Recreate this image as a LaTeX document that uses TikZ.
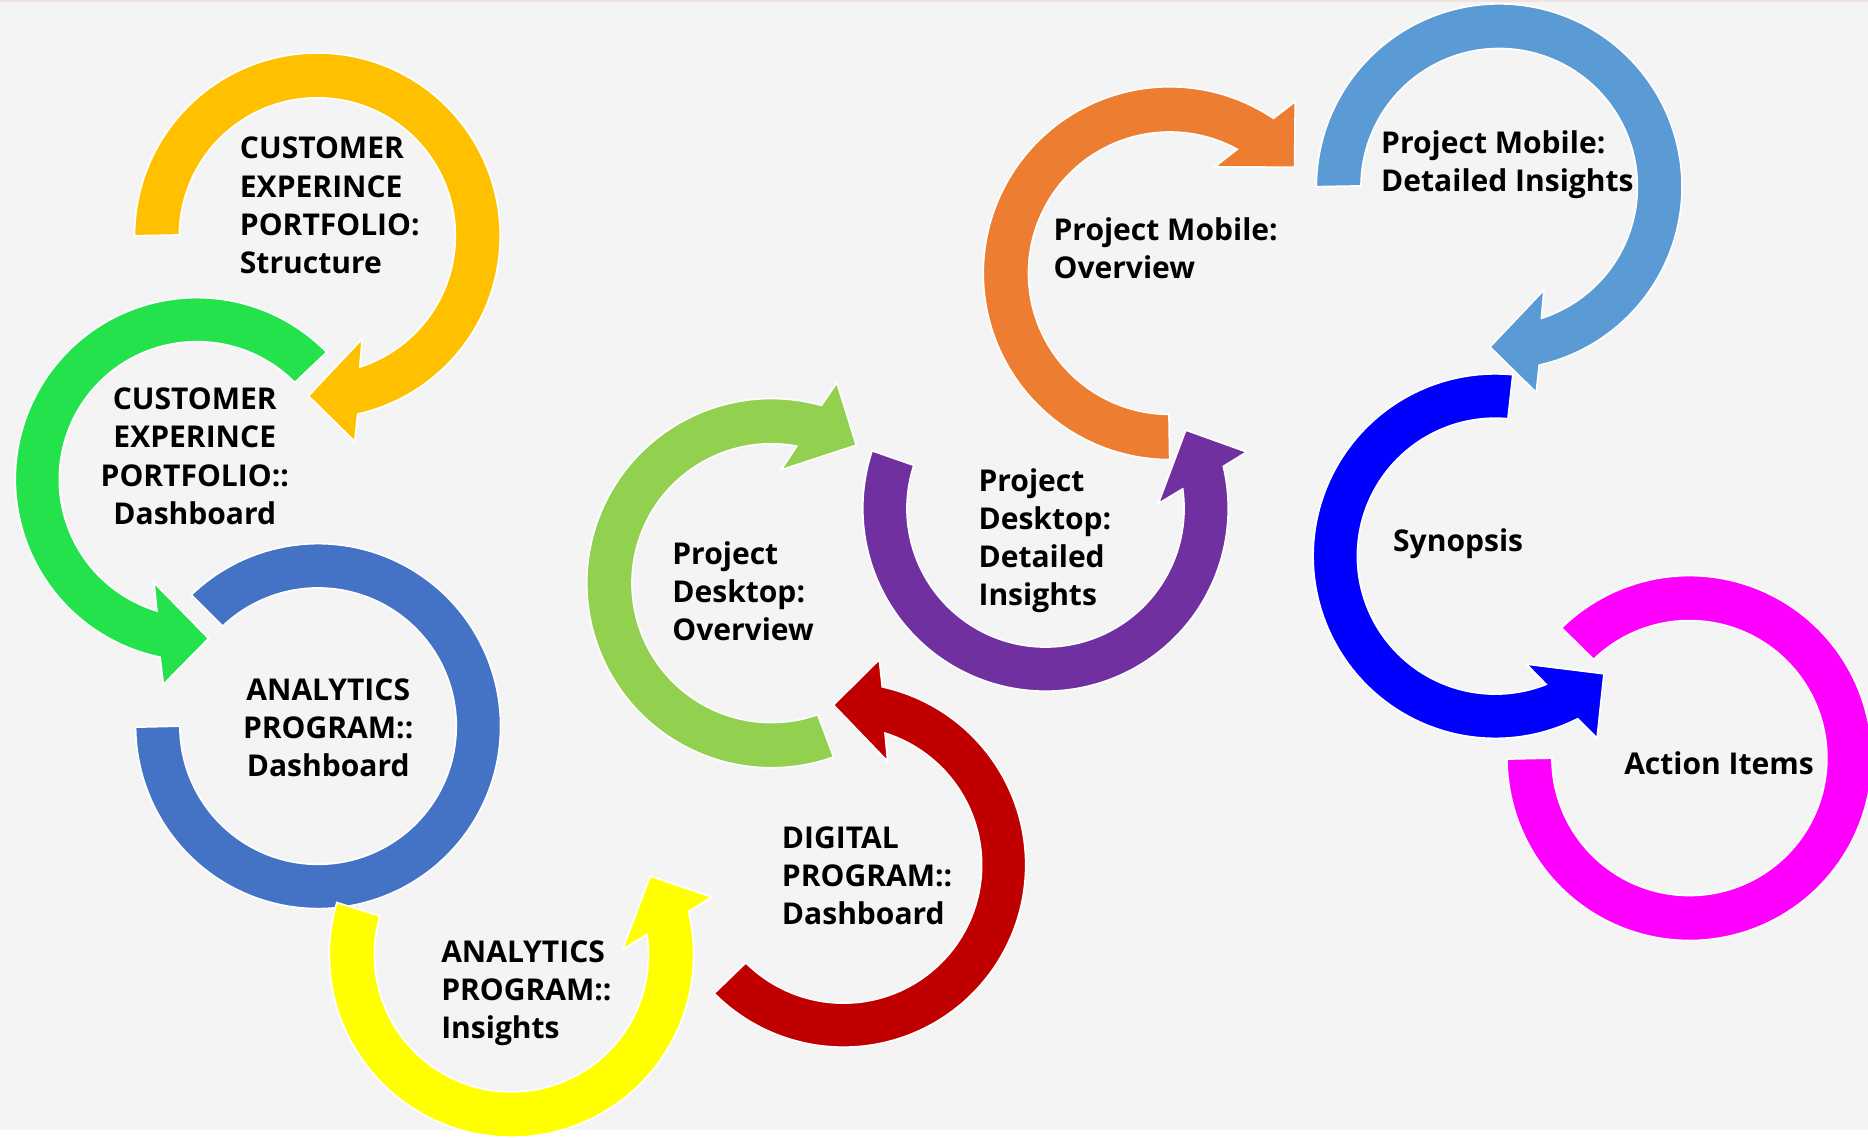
\documentclass[tikz,border=0pt]{standalone}
\usepackage{fontspec}
\setmainfont{Open Sans}
\definecolor{bggray}{HTML}{F4F4F4}
\definecolor{topline}{HTML}{F2E2E2}
\definecolor{cgold}{HTML}{FFC000}
\definecolor{cgreen}{HTML}{23E24B}
\definecolor{cblue}{HTML}{4472C4}
\definecolor{cyellow}{HTML}{FFFF00}
\definecolor{cred}{HTML}{C00000}
\definecolor{clgreen}{HTML}{92D050}
\definecolor{cpurple}{HTML}{7030A0}
\definecolor{corange}{HTML}{ED7D31}
\definecolor{clblue}{HTML}{5B9BD5}
\definecolor{cpure}{HTML}{0000FF}
\definecolor{cmagenta}{HTML}{FF00FF}
\tikzset{
  arrowshape/.style={draw=white, line width=0.7pt, line join=miter},
  lbl/.style={inner sep=0pt, font=\fontsize{12.6pt}{16pt}\selectfont\bfseries, text=black}
}
% color, cx, cy, ro, ri, tail angle, tip angle, direction (+1/-1)
\newcommand\carrow[8]{%
  \pgfmathsetmacro\cso{#7-(#8)*15.6}%
  \pgfmathsetmacro\csi{#7-(#8)*21.1}%
  \pgfmathsetmacro\cbo{#7-(#8)*13.5}%
  \pgfmathsetmacro\cbi{#7-(#8)*26.7}%
  \pgfmathsetmacro\crbo{#4+22}%
  \pgfmathsetmacro\crbi{#5-21.5}%
  \pgfmathsetmacro\crt{(#4+#5)/2}%
  \filldraw[arrowshape, fill=#1, shift={(#2,#3)}]
    plot[domain=0:1, samples=120] ({#4*cos(#6+(\cso-#6)*\x)},{#4*sin(#6+(\cso-#6)*\x)})
    -- ({\crbo*cos(\cbo)},{\crbo*sin(\cbo)})
    -- ({\crt*cos(#7)},{\crt*sin(#7)})
    -- ({\crbi*cos(\cbi)},{\crbi*sin(\cbi)})
    -- plot[domain=0:1, samples=120] ({#5*cos(\csi+(#6-\csi)*\x)},{#5*sin(\csi+(#6-\csi)*\x)})
    -- cycle;
}
% color, cx, cy, ro, ri, start angle, end angle
\newcommand\cring[7]{%
  \filldraw[arrowshape, fill=#1, shift={(#2,#3)}]
    plot[domain=0:1, samples=140] ({#4*cos(#6+(#7-#6)*\x)},{#4*sin(#6+(#7-#6)*\x)})
    -- plot[domain=0:1, samples=140] ({#5*cos(#7+(#6-#7)*\x)},{#5*sin(#7+(#6-#7)*\x)})
    -- cycle;
}
\begin{document}
\begin{tikzpicture}[x=0.5pt, y=-0.5pt]
\useasboundingbox (0,0) rectangle (1568,955);
\clip (0,0) rectangle (1568,955);
\fill[white] (0,0) rectangle (1568,955);
\fill[bggray] (0,0) rectangle (1568,948.5);
\fill[topline] (0,0) rectangle (1568,1.5);

% rings and arrows
\cring{cblue}{267}{609.5}{153.2}{116}{226}{540}
\carrow{cgold}{266.4}{197.9}{153.5}{115.8}{180}{453.2}{1}
\carrow{cgreen}{165.3}{402.3}{152.5}{115.5}{315.6}{85.8}{-1}
\carrow{cyellow}{429.3}{801.5}{153}{115}{196.7}{-29.6}{-1}
\carrow{cred}{708}{726}{153}{116}{135.2}{-93.6}{-1}
\carrow{clgreen}{647.5}{489.5}{155}{117}{70.3}{301.6}{1}
\carrow{corange}{981.8}{229.3}{156.5}{118.5}{90}{319.7}{1}
\carrow{cpurple}{877.6}{426.8}{153.4}{116.3}{198.4}{-29.2}{-1}
\carrow{cpure}{1255.2}{466.8}{153}{115.8}{275.5}{47.3}{-1}
\carrow{clblue}{1258.4}{156.7}{153.5}{116}{180}{453.3}{1}
\cring{cmagenta}{1418.1}{636.3}{153.2}{115.4}{225.5}{540}

% labels
\node[lbl, anchor=west, align=left] (t1) at (201,172.4) {CUSTOMER\\EXPERINCE\\PORTFOLIO:\\Structure};
\node[lbl, anchor=center, align=center] (t2) at (163.5,383) {CUSTOMER\\EXPERINCE\\PORTFOLIO::\\Dashboard};
\node[lbl, anchor=center, align=center] (t3) at (275.5,611) {ANALYTICS\\PROGRAM::\\Dashboard};
\node[lbl, anchor=west, align=left] (t4) at (370,834) {ANALYTICS\\PROGRAM::\\Insights};
\node[lbl, anchor=west, align=left] (t5) at (656,735) {DIGITAL\\PROGRAM::\\Dashboard};
\node[lbl, anchor=west, align=left] (t6) at (564,496.5) {Project\\Desktop:\\Overview};
\node[lbl, anchor=west, align=left] (t7) at (821,454) {Project\\Desktop:\\Detailed\\Insights};
\node[lbl, anchor=west, align=left] (t8) at (884,208) {Project Mobile:\\Overview};
\node[lbl, anchor=west, align=left] (t9) at (1159,138) {Project Mobile:\\Detailed Insights};
\node[lbl, anchor=west] (t10) at (1169,456) {Synopsis};
\node[lbl, anchor=west] (t11) at (1363,641) {Action Items};
\end{tikzpicture}
\end{document}
